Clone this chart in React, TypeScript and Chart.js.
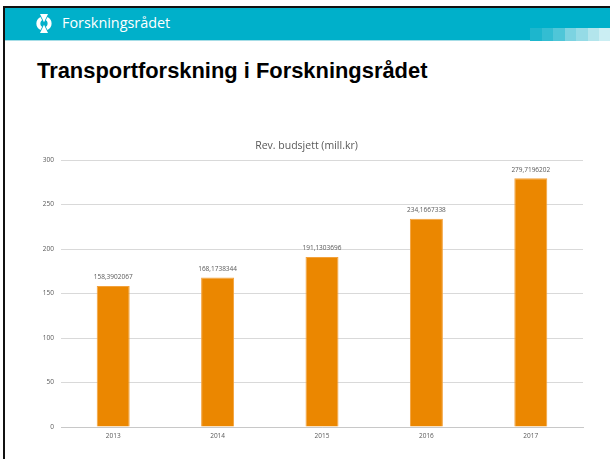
import React, { useEffect, useRef } from 'react';
import { Chart, registerables } from 'chart.js';

Chart.register(...registerables);

const categories = ['2013', '2014', '2015', '2016', '2017'];
const budget = [158.3902067, 168.1738344, 191.1303696, 234.1667338, 279.7196202];
const yMin = 0;
const yMax = 300;
const yStep = 50;
const chartTitle = 'Rev. budsjett (mill.kr)';
const slideTitle = 'Transportforskning i Forskningsrådet';
const brandName = 'Forskningsrådet';

const barColor = '#EB8700';
const barEdge = '#F3A23C';
const textGrey = '#595959';
const gridGrey = '#D9D9D9';
const teal = '#00B0CA';
const stripeColors = ['#1DB6CD', '#33BDD2', '#4FC6D8', '#7CD3E1', '#95DBE6', '#B3E5EC', '#CBEEF3'];

const fmt = (v: number) => String(v).replace('.', ',');

const valueLabels = {
  id: 'valueLabels',
  afterDatasetsDraw(chart: any) {
    const ctx = chart.ctx;
    const meta = chart.getDatasetMeta(0);
    const data = chart.data.datasets[0].data as number[];
    ctx.save();
    ctx.font = '6.5px "Open Sans"';
    ctx.fillStyle = textGrey;
    ctx.textAlign = 'center';
    ctx.textBaseline = 'middle';
    meta.data.forEach((bar: any, i: number) => {
      ctx.fillText(fmt(data[i]), bar.x, bar.y - 8.5);
    });
    ctx.restore();
  },
};

function BudgetChart() {
  const ref = useRef<HTMLCanvasElement | null>(null);
  useEffect(() => {
    if (!ref.current) return;
    const chart = new Chart(ref.current, {
      type: 'bar',
      data: {
        labels: categories,
        datasets: [
          {
            data: budget,
            backgroundColor: barColor,
            borderColor: barEdge,
            borderWidth: 1,
            categoryPercentage: 1,
            barPercentage: 0.316,
          },
        ],
      },
      options: {
        animation: false,
        responsive: false,
        maintainAspectRatio: false,
        layout: { padding: { left: 0, right: 17, top: 0, bottom: 0 } },
        plugins: {
          legend: { display: false },
          tooltip: { enabled: false },
          title: {
            display: true,
            text: chartTitle,
            color: textGrey,
            font: { family: '"Open Sans"', size: 10.5, weight: 'normal', lineHeight: 1.2 },
            padding: { top: 11.5, bottom: 8 },
          },
        },
        scales: {
          x: {
            grid: { display: false, drawTicks: false },
            border: { display: true, color: '#C8C8C8', width: 1 },
            ticks: {
              color: textGrey,
              font: { family: '"Open Sans"', size: 6.5 },
              padding: 5,
              maxRotation: 0,
            },
            afterFit: (s: any) => {
              s.height = 23;
            },
          },
          y: {
            min: yMin,
            max: yMax,
            grid: { color: gridGrey, lineWidth: 1, drawTicks: false },
            border: { display: false },
            ticks: {
              stepSize: yStep,
              color: textGrey,
              font: { family: '"Open Sans"', size: 6.5 },
              padding: 7,
            },
            afterFit: (s: any) => {
              s.width = 31;
            },
          },
        },
      },
      plugins: [valueLabels],
    });
    return () => chart.destroy();
  }, []);
  return (
    <canvas
      ref={ref}
      width={570}
      height={322}
      style={{ position: 'absolute', left: 30, top: 128, width: 570, height: 322 }}
    />
  );
}

function Logo() {
  return (
    <svg
      width={18}
      height={21}
      viewBox="0 0 18 21"
      style={{ position: 'absolute', left: 35, top: 13 }}
    >
      <path d="M5 1 L13 1 L9 9.3 Z" fill="#fff" />
      <path d="M5 20 L13 20 L9 11.7 Z" fill="#fff" />
      <path d="M5.5 4 C0 6.5 0 14.5 5.5 17 L7.2 13.8 C4.8 12.6 4.8 8.4 7.2 7.2 Z" fill="#fff" />
      <path d="M12.5 4 C18 6.5 18 14.5 12.5 17 L10.8 13.8 C13.2 12.6 13.2 8.4 10.8 7.2 Z" fill="#fff" />
    </svg>
  );
}

export default function App() {
  return (
    <div
      style={{
        position: 'absolute',
        left: 0,
        top: 0,
        width: 610,
        height: 459,
        background: '#fff',
        overflow: 'hidden',
      }}
    >
      <div style={{ position: 'absolute', left: 3, top: 6, width: 607, height: 2, background: '#111' }} />
      <div style={{ position: 'absolute', left: 3, top: 6, width: 2, height: 453, background: '#111' }} />
      <div style={{ position: 'absolute', left: 5, top: 8, width: 605, height: 32, background: teal }} />
      <div style={{ position: 'absolute', left: 5, top: 40, width: 605, height: 1, background: '#A6DDE6' }} />
      {stripeColors.map((c, i) => (
        <div
          key={i}
          style={{
            position: 'absolute',
            left: 530 + i * 11.5,
            top: 28,
            width: 11.5,
            height: 13,
            background: c,
          }}
        />
      ))}
      <Logo />
      <div
        style={{
          position: 'absolute',
          left: 62,
          top: 16.3,
          fontFamily: '"Open Sans"',
          fontSize: 14.4,
          lineHeight: 1,
          color: '#fff',
          whiteSpace: 'nowrap',
        }}
      >
        {brandName}
      </div>
      <div
        style={{
          position: 'absolute',
          left: 37,
          top: 60,
          fontFamily: '"Liberation Sans"',
          fontWeight: 'bold',
          fontSize: 21.9,
          lineHeight: 1,
          color: '#000',
          whiteSpace: 'nowrap',
        }}
      >
        {slideTitle}
      </div>
      <BudgetChart />
    </div>
  );
}
